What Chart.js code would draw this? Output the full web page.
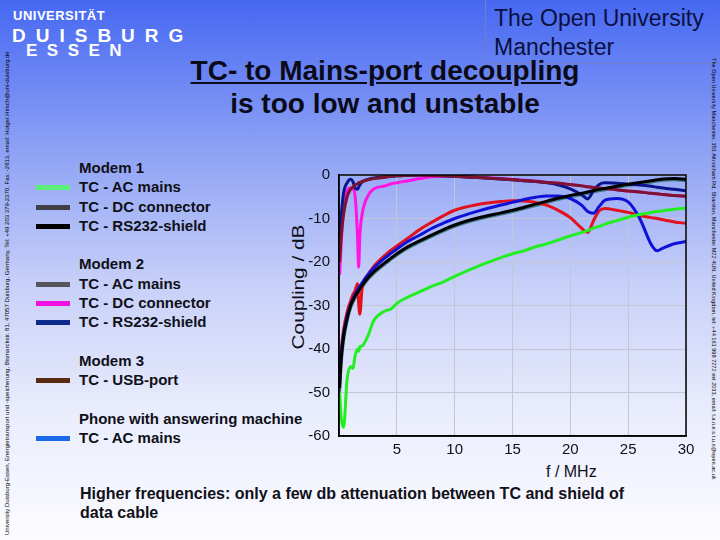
<!DOCTYPE html>
<html lang="en">
<head>
    <meta charset="UTF-8">
    <title>TC- to Mains-port decoupling</title>
    <style>
        body {
            margin: 0;
            padding: 0;
        }

        .slide {
            position: relative;
            width: 720px;
            height: 540px;
            overflow: hidden;
            font-family: Arial, "Liberation Sans", sans-serif;
            background: linear-gradient(to bottom, #4668f2 0%, #8ea2f5 28%, #c6cff8 52%, #e9ecfc 76%, #fcfcff 100%);
        }

        .abs {
            position: absolute;
            white-space: nowrap;
        }

        .logo {
            color: #fff;
            font-weight: bold;
        }

        .ou-box {
            position: absolute;
            left: 485px;
            top: -1px;
            width: 236px;
            height: 65px;
            border: 1px solid #6f80c8;
            box-sizing: border-box;
            color: #0a1040;
            font-size: 23px;
            line-height: 29px;
            padding: 4px 0 0 8px;
        }

        .title {
            left: 0;
            width: 770px;
            text-align: center;
            font-weight: bold;
            font-size: 28px;
            color: #0a0a18;
        }

        .legend {
            left: 36px;
            top: 158px;
            font-weight: bold;
            font-size: 15px;
            color: #101018;
        }

        .legend div {
            position: relative;
            height: 19.3px;
            line-height: 19.3px;
            padding-left: 43px;
        }

        .legend .gap {
            height: 19.3px;
        }

        .legend span {
            position: absolute;
            left: 0;
            top: 8px;
            width: 34px;
            height: 5px;
        }

        .side {
            color: #000;
        }

        #wrap {
            position: absolute;
            left: 290px;
            top: 157px;
            width: 410px;
            height: 310px;
        }
    </style>
</head>
<body>
    <div class="slide">
        <div class="abs logo" style="left:13px; top:8px; font-size:13px; letter-spacing:0.5px;">UNIVERSITÄT</div>
        <div class="abs logo" style="left:12px; top:25px; font-size:19px; letter-spacing:10px;">DUISBURG</div>
        <div class="abs logo" style="left:26px; top:41px; font-size:17px; letter-spacing:9.5px;">ESSEN</div>

        <div class="ou-box">The Open University<br>Manchester</div>

        <div class="abs title" style="top:55px; text-decoration:underline;">TC- to Mains-port decoupling</div>
        <div class="abs title" style="top:88px;">is too low and unstable</div>

        <div class="abs side" style="left:4px; top:535px; font-size:6px; transform:rotate(-90deg); transform-origin:0 0;">University Duisburg-Essen, Energietransport und -speicherung, Bismarckstr. 81, 47057 Duisburg, Germany, Tel: +49 203 379-2370, Fax: -2813, email: Holger.Hirsch@uni-duisburg.de</div>
        <div class="abs side" style="left:717px; top:58px; font-size:5.6px; transform:rotate(90deg); transform-origin:0 0;">The Open University Manchester, 351 Altrincham Rd, Sharston, Manchester M22 4UN, United Kingdom, tel: +44 161 998 7272 ext 2033, email: t.a.n.e.s.t.u.n@open.ac.uk</div>

        <div class="abs legend">
            <div>Modem 1</div>
            <div><span style="background:#5cf07a"></span>TC - AC mains</div>
            <div><span style="background:#404048"></span>TC - DC connector</div>
            <div><span style="background:#000000"></span>TC - RS232-shield</div>
            <div class="gap"></div>
            <div>Modem 2</div>
            <div><span style="background:#55555c"></span>TC - AC mains</div>
            <div><span style="background:#f010e0"></span>TC - DC connector</div>
            <div><span style="background:#0c2a8a"></span>TC - RS232-shield</div>
            <div class="gap"></div>
            <div>Modem 3</div>
            <div><span style="background:#5a2a10"></span>TC - USB-port</div>
            <div class="gap"></div>
            <div>Phone with answering machine</div>
            <div><span style="background:#1a6ae8"></span>TC - AC mains</div>
        </div>

        <div class="abs" style="left:299px; top:287px; font-size:16px; color:#101018; transform:translate(-50%,-50%) rotate(-90deg) scaleX(1.3); transform-origin:center;">Coupling / dB</div>
        <div class="abs" style="left:546px; top:463px; font-size:16px; color:#101018;">f / MHz</div>

        <div class="abs" style="left:80px; top:484px; font-size:16px; font-weight:bold; color:#101018; line-height:19px;">Higher frequencies: only a few db attenuation between TC and shield of<br>data cable</div>

        <div id="wrap"><canvas id="myChart"></canvas></div>
    </div>

    <script src="https://cdn.jsdelivr.net/npm/chart.js@4"></script>
    <script>
        // frequency grid in MHz, shared by all curves
        var freq = [0.05, 0.2, 0.4, 0.7, 1.0, 1.2, 1.4, 1.6, 1.7, 1.8, 2.0, 2.5, 3, 4, 4.5, 5, 6, 7, 8, 9, 10,
                    12, 14, 15, 16, 17, 18, 19, 20, 21, 21.5, 22, 22.5, 23, 24, 25, 26, 27, 27.5, 28, 29, 30];

        // coupling in dB
        var m1AcMains = [-50, -56, -58, -47, -44, -44.5, -41.5, -40, -40.5, -39.5, -39.3, -37, -33.5, -31.2, -30.8, -29.5, -28, -26.8, -25.6, -24.6, -23.3,
                         -21, -19, -18.1, -17.4, -16.5, -15.8, -14.9, -14, -13.2, -12.8, -12.2, -11.8, -11.3, -10.5, -9.7, -9.1, -8.6, -8.4, -8.2, -7.9, -7.6];
        var m1DcConn = [-50, -43, -38, -33.6, -30.6, -29.3, -28.3, -27.4, -27, -26.6, -25.8, -24, -22.6, -20.4, -19.4, -18.4, -16.7, -15.4, -14.1, -12.9, -11.8,
                        -10.2, -9, -8.4, -7.7, -7, -6.3, -5.6, -5, -4.5, -4.2, -3.9, -3.6, -3.4, -2.9, -2.4, -2, -1.6, -1.4, -1.2, -1.1, -1.3];
        var m1Rs232 = [-49, -42, -37, -33, -30, -28.8, -27.8, -27, -26.6, -26.2, -25.4, -23.6, -22.3, -20.1, -19.1, -18.1, -16.4, -15.1, -13.8, -12.6, -11.5,
                       -9.9, -8.7, -8.1, -7.4, -6.7, -6, -5.3, -4.7, -4.2, -3.9, -3.6, -3.3, -3.1, -2.6, -2.1, -1.7, -1.3, -1.1, -0.9, -0.8, -1];
        var m2AcMains = [-45, -40, -35.5, -31.5, -29, -27.5, -26.5, -25, -29.5, -32, -26, -23, -21, -18.4, -17.3, -16.3, -14.4, -12.5, -10.9, -9.4, -8.1,
                         -6.8, -6.1, -5.9, -6, -6.3, -7, -8.2, -9.8, -12.3, -13.2, -10.5, -8.2, -7.7, -8.1, -8.6, -9.3, -9.8, -10, -10.3, -10.8, -11.1];
        var m2DcConn = [-23, -15, -7, -3.5, -3, -3.2, -5, -14, -21.2, -14, -9, -4.8, -3.2, -2.5, -2, -1.8, -1.3, -0.8, -0.4, -0.3, -0.3,
                        -0.5, -0.8, -1, -1.2, -1.4, -1.7, -1.9, -2.2, -2.5, -2.7, -2.9, -3, -3.1, -3.4, -3.7, -3.9, -4.2, -4.3, -4.5, -4.7, -4.9];
        var m2Rs232 = [-14, -9, -4, -1.8, -1, -1.5, -3, -3.3, -2.8, -2.3, -1.6, -1, -0.7, -0.4, -0.3, -0.2, -0.1, 0, -0.1, -0.2, -0.3,
                       -0.6, -0.9, -1.1, -1.3, -1.5, -1.8, -2.3, -3.2, -4.6, -5.5, -3.6, -2.2, -1.8, -1.9, -2.1, -2.3, -2.6, -2.8, -3, -3.3, -3.6];
        var m3Usb = [-20, -14, -9, -5, -3.3, -2.8, -2.3, -2, -1.8, -1.7, -1.5, -1.1, -0.8, -0.5, -0.3, -0.2, -0.1, 0, -0.1, -0.2, -0.3,
                     -0.6, -0.9, -1.1, -1.3, -1.5, -1.7, -1.9, -2.2, -2.5, -2.7, -2.9, -3, -3.1, -3.4, -3.7, -3.9, -4.2, -4.3, -4.5, -4.7, -4.9];
        var phoneAcMains = [-46, -41, -36.5, -32.5, -29.8, -28.5, -27.4, -26.5, -26, -25.6, -24.8, -22.9, -21.4, -19, -18, -17, -15.2, -13.8, -12.3, -11.1, -10,
                            -8.3, -6.9, -6.3, -5.6, -5.1, -4.8, -4.8, -5.4, -7, -8.4, -8.8, -7.2, -5.8, -5.4, -6.2, -10, -16, -17.4, -16.8, -15.8, -15.3];

        var xTicks = [5, 10, 15, 20, 25, 30];

        function pts(vals) {
            return freq.map(function (f, i) { return { x: f, y: vals[i] }; });
        }

        function series(label, vals, color, order) {
            return {
                label: label,
                data: pts(vals),
                borderColor: color,
                backgroundColor: color,
                borderWidth: 3,
                pointRadius: 0,
                cubicInterpolationMode: 'monotone',
                order: order
            };
        }

        // black frame round the plot area
        var frame = {
            id: 'frame',
            afterDatasetsDraw: function (chart) {
                var a = chart.chartArea;
                var ctx = chart.ctx;
                ctx.save();
                ctx.strokeStyle = '#000';
                ctx.lineWidth = 1.5;
                ctx.strokeRect(a.left, a.top, a.right - a.left, a.bottom - a.top);
                ctx.restore();
            }
        };

        var ctx = document.getElementById('myChart').getContext('2d');
        var myChart = new Chart(ctx, {
            type: 'line',
            data: {
                datasets: [
                    series('Modem 1: TC - AC mains', m1AcMains, '#22ee22', 2),
                    series('Modem 1: TC - DC connector', m1DcConn, '#3d7a80', 8),
                    series('Modem 1: TC - RS232-shield', m1Rs232, '#000000', 1),
                    series('Modem 2: TC - AC mains', m2AcMains, '#e3101e', 4),
                    series('Modem 2: TC - DC connector', m2DcConn, '#ff14e4', 7),
                    series('Modem 2: TC - RS232-shield', m2Rs232, '#0a148c', 6),
                    series('Modem 3: TC - USB-port', m3Usb, '#7c1430', 5),
                    series('Phone with answering machine: TC - AC mains', phoneAcMains, '#0f12d6', 3)
                ]
            },
            options: {
                responsive: true,
                maintainAspectRatio: false,
                animation: false,
                layout: { padding: { left: 0, top: 10, right: 14, bottom: 0 } },
                plugins: {
                    legend: { display: false },
                    tooltip: { enabled: false }
                },
                scales: {
                    x: {
                        type: 'linear',
                        min: 0,
                        max: 30,
                        afterBuildTicks: function (s) {
                            s.ticks = [{ value: 0 }].concat(xTicks.map(function (v) { return { value: v }; }));
                        },
                        ticks: {
                            callback: function (v) { return v === 0 ? '' : v; },
                            font: { family: 'Arial', size: 15 },
                            color: '#101018',
                            padding: 5,
                            maxRotation: 0
                        },
                        grid: { color: '#c4c6d4', drawTicks: false },
                        border: { color: '#000', width: 1.5 },
                        afterFit: function (s) { s.height = 31; }
                    },
                    y: {
                        min: -60,
                        max: 0,
                        ticks: {
                            stepSize: 10,
                            font: { family: 'Arial', size: 15 },
                            color: '#101018',
                            padding: 9
                        },
                        grid: { color: '#c4c6d4', drawTicks: false },
                        border: { color: '#000', width: 1.5 },
                        afterFit: function (s) { s.width = 49; }
                    }
                }
            },
            plugins: [frame]
        });
    </script>
</body>
</html>
